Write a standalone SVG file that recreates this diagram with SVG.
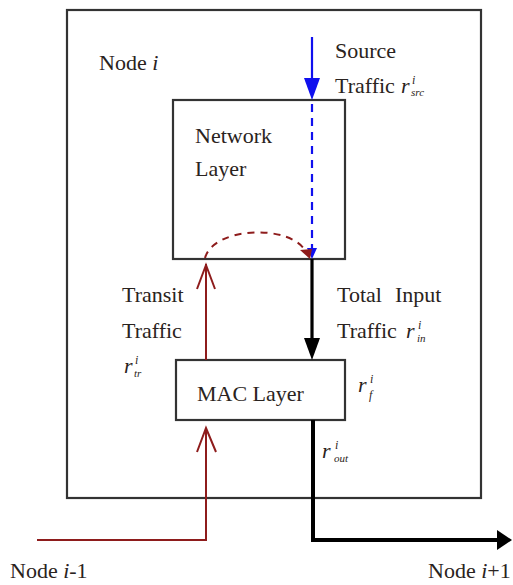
<svg xmlns="http://www.w3.org/2000/svg" width="513" height="585" viewBox="0 0 513 585">
<style>
  .box { fill: #ffffff; stroke: #333333; stroke-width: 2.2; }
  .t { font-family: "Liberation Serif", "Times New Roman", serif; font-size: 22px; fill: #2a2320; }
  .m { font-family: "Liberation Serif", "Times New Roman", serif; font-style: italic; fill: #2a2320; }
  .red { stroke: #8e1c1c; fill: none; stroke-width: 2; }
  .blue { stroke: #1010ee; fill: none; stroke-width: 2.2; }
  .blk { stroke: #000000; fill: none; }
</style>
<rect width="513" height="585" fill="#ffffff"/>
<g id="node-i">
  <rect class="box" x="67" y="10" width="414" height="488"/>
  <text class="t" x="99" y="70">Node <tspan font-style="italic">i</tspan></text>
</g>
<g id="network-layer">
  <rect class="box" x="173" y="100" width="172" height="159"/>
  <text class="t" x="195" y="143">Network</text>
  <text class="t" x="195" y="176">Layer</text>
</g>
<g id="mac-layer">
  <rect class="box" x="176" y="360" width="169" height="60"/>
  <text class="t" x="197" y="401">MAC Layer</text>
</g>
<g id="labels">
  <text class="t" x="335" y="58">Source</text>
  <text class="t" x="335" y="93">Traffic</text>
  <text class="m" x="401" y="93" font-size="22">r</text>
  <text class="m" x="412" y="84" font-size="12">i</text>
  <text class="m" x="411" y="96" font-size="11">src</text>

  <text class="t" x="122" y="302">Transit</text>
  <text class="t" x="122" y="338">Traffic</text>
  <text class="m" x="124" y="373" font-size="22">r</text>
  <text class="m" x="135" y="364" font-size="12">i</text>
  <text class="m" x="134" y="377" font-size="11">tr</text>

  <text class="t" x="337" y="302">Total</text>
  <text class="t" x="395" y="302">Input</text>
  <text class="t" x="337" y="338">Traffic</text>
  <text class="m" x="406" y="338" font-size="22">r</text>
  <text class="m" x="418" y="329" font-size="12">i</text>
  <text class="m" x="417" y="342" font-size="11">in</text>

  <text class="m" x="358" y="392" font-size="22">r</text>
  <text class="m" x="370" y="383" font-size="12">i</text>
  <text class="m" x="369" y="399" font-size="12">f</text>

  <text class="m" x="322" y="458" font-size="22">r</text>
  <text class="m" x="335" y="449" font-size="12">i</text>
  <text class="m" x="334" y="462" font-size="11">out</text>

  <text class="t" x="10" y="578">Node <tspan font-style="italic">i</tspan>-1</text>
  <text class="t" x="428" y="578">Node <tspan font-style="italic">i</tspan>+1</text>
</g>
<g id="connectors">
  <!-- source traffic (blue) -->
  <line class="blue" x1="312" y1="37" x2="312" y2="82"/>
  <polygon points="304,78 320,78 312,100" fill="#1010ee"/>
  <line class="blue" x1="312" y1="104" x2="312" y2="250" stroke-dasharray="8,6"/>
  <polygon points="307,248 317,248 312,259" fill="#1010ee"/>
  <!-- transit loop (dashed red) -->
  <path class="red" d="M205,258 C214,226 292,224 306,252" stroke-dasharray="7,6" stroke-width="2.2"/>
  <polygon points="300,250 312,249 310,259" fill="#8e1c1c"/>
  <!-- total input (black) -->
  <line class="blk" x1="312" y1="259" x2="312" y2="342" stroke-width="3.2"/>
  <polygon points="304,338 320,338 312,360" fill="#000000"/>
  <!-- transit traffic up (red) -->
  <line class="red" x1="206" y1="360" x2="206" y2="264"/>
  <polyline class="red" points="197,289 206,265 215,289" stroke-width="2.2"/>
  <!-- from node i-1 (red) -->
  <polyline class="red" points="37,540 206,540 206,429"/>
  <polyline class="red" points="197,452 206,428 216,452" stroke-width="2.2"/>
  <!-- output to node i+1 (black) -->
  <polyline class="blk" points="313,420 313,540 500,540" stroke-width="4"/>
  <polygon points="497,530 512,540 497,550" fill="#000000"/>
</g>
</svg>
